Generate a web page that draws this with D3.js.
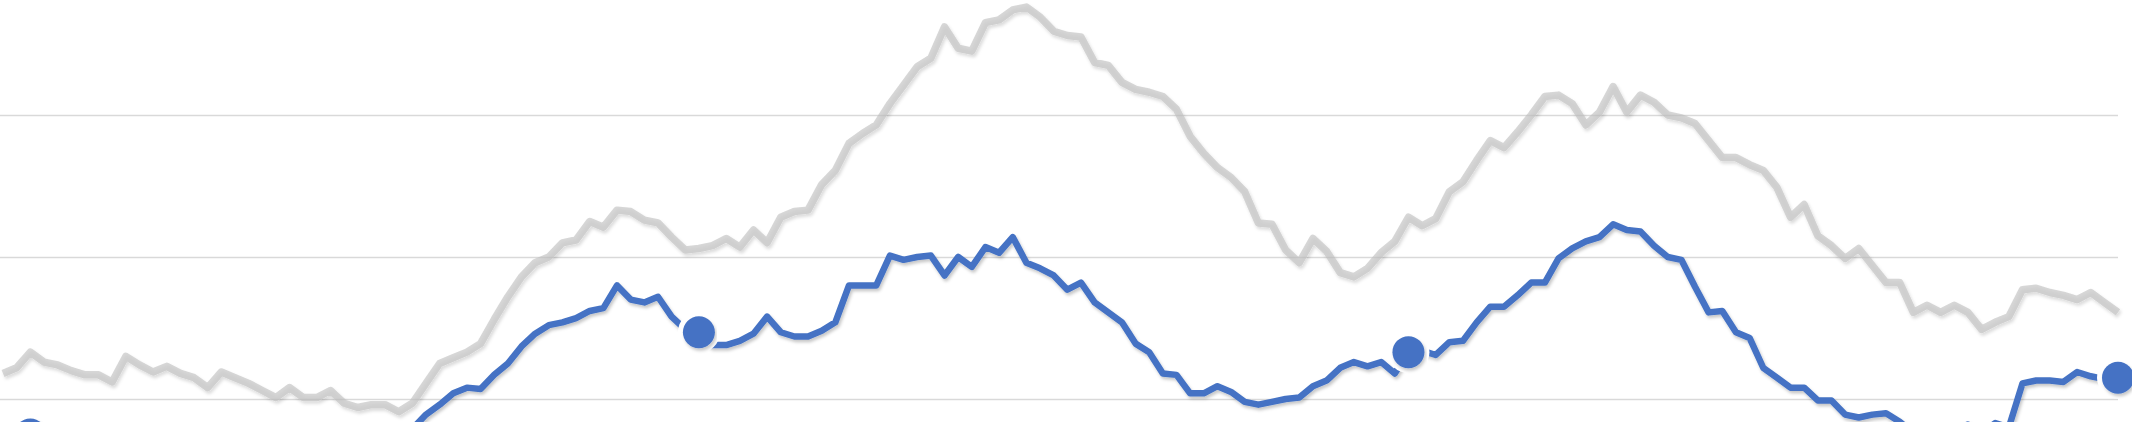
<!DOCTYPE html>
<html>
<head>
<meta charset="utf-8">
<script src="https://cdn.jsdelivr.net/npm/d3@7"></script>
<style>
  html, body { margin: 0; padding: 0; background: #ffffff; overflow: hidden; }
  svg { display: block; }
</style>
</head>
<body>
<svg id="chart" width="2132" height="422"></svg>
<script>
// ---- data (index = period number) ----
const grayValues = [
  11.8,12.2,13.3,12.6,12.4,12.0,11.7,11.7,11.2,13.0,
  12.4,11.9,12.3,11.8,11.5,10.8,11.9,11.5,11.1,10.6,
  10.1,10.8,10.1,10.1,10.6,9.7,9.4,9.6,9.6,9.1,
  9.7,11.1,12.5,12.9,13.3,13.9,15.6,17.2,18.6,19.6,
  20.0,21.0,21.2,22.5,22.1,23.3,23.2,22.6,22.4,21.4,
  20.5,20.6,20.8,21.3,20.7,21.9,21.0,22.8,23.2,23.3,
  25.1,26.1,28.0,28.7,29.3,30.8,32.1,33.4,34.0,36.2,
  34.7,34.5,36.5,36.7,37.4,37.6,36.9,35.9,35.6,35.5,
  33.7,33.5,32.3,31.8,31.6,31.3,30.4,28.5,27.3,26.3,
  25.6,24.6,22.4,22.3,20.5,19.6,21.3,20.4,18.9,18.6,
  19.2,20.3,21.1,22.8,22.2,22.7,24.6,25.3,26.8,28.2,
  27.7,28.8,30.0,31.3,31.4,30.8,29.3,30.2,32.0,30.2,
  31.4,30.9,30.0,29.8,29.4,28.2,27.0,27.0,26.5,26.1,
  24.9,22.8,23.7,21.5,20.8,19.9,20.6,19.4,18.2,18.2,
  16.1,16.6,16.1,16.6,16.1,14.9,15.4,15.8,17.7,17.8,
  17.5,17.3,17.0,17.5,16.8,16.1
];
const blueValues = [
  7.7,7.4,7.5,7.1,6.9,6.5,6.2,6.2,5.7,7.5,
  6.9,6.4,6.8,6.3,6.0,5.3,6.4,6.0,5.6,5.1,
  4.6,5.3,4.6,4.6,5.1,4.2,3.9,4.1,5.2,6.0,
  7.9,8.9,9.6,10.4,10.8,10.7,11.7,12.5,13.7,14.6,
  15.2,15.4,15.7,16.2,16.4,18.0,17.0,16.8,17.2,15.8,
  14.9,14.7,13.8,13.8,14.1,14.6,15.8,14.7,14.4,14.4,
  14.8,15.4,18.0,18.0,18.0,20.1,19.8,20.0,20.1,18.7,
  20.0,19.3,20.7,20.3,21.4,19.6,19.2,18.7,17.7,18.2,
  16.8,16.1,15.4,13.9,13.3,11.8,11.7,10.4,10.4,10.9,
  10.5,9.8,9.6,9.8,10.0,10.1,10.9,11.3,12.2,12.6,
  12.3,12.6,11.8,13.3,13.4,13.1,14.0,14.1,15.4,16.5,
  16.5,17.3,18.2,18.2,19.9,20.6,21.1,21.4,22.3,21.9,
  21.8,20.8,20.0,19.8,17.9,16.1,16.2,14.7,14.3,12.2,
  11.5,10.8,10.8,9.9,9.9,8.9,8.7,8.9,9.0,8.4,
  7.6,7.9,7.5,7.8,8.2,7.6,8.3,8.0,11.1,11.3,
  11.3,11.2,11.9,11.6,11.4,11.5
];
const markerIndices = [2, 51, 103, 155];
const gridValues = [0, 10, 20, 30];

// ---- scales ----
const svg = d3.select("#chart");
const x = d3.scaleLinear().domain([0, grayValues.length - 1]).range([3, 2118]);
const y = d3.scaleLinear().domain([0, 40]).range([541, -27]);

// shadow filter
const defs = svg.append("defs");
const f = defs.append("filter").attr("id", "shadow")
  .attr("x", "-5%").attr("y", "-20%").attr("width", "110%").attr("height", "140%");
f.append("feDropShadow").attr("dx", 1.5).attr("dy", 2.5).attr("stdDeviation", 1.6)
  .attr("flood-color", "#000").attr("flood-opacity", 0.22);

// gridlines via axis
const grid = svg.append("g").attr("class", "grid")
  .call(d3.axisRight(y).tickValues(gridValues).tickSize(2118).tickFormat(""));
grid.select(".domain").remove();
grid.selectAll(".tick line").attr("stroke", "#d9d9d9").attr("stroke-width", 1.6);

const line = d3.line().x((d, i) => x(i)).y(d => y(d));

// gray series
svg.append("path")
  .datum(grayValues)
  .attr("d", line)
  .attr("fill", "none")
  .attr("stroke", "#bfbfbf")
  .attr("stroke-opacity", 0.62)
  .attr("stroke-width", 7.5)
  .attr("stroke-linejoin", "round")
  .attr("filter", "url(#shadow)");

// blue series
svg.append("path")
  .datum(blueValues)
  .attr("d", line)
  .attr("fill", "none")
  .attr("stroke", "#4472c4")
  .attr("stroke-width", 6.5)
  .attr("stroke-linejoin", "round")
  .attr("filter", "url(#shadow)");

// markers: white halo then blue dot
const markers = svg.append("g");
markers.selectAll("circle.halo").data(markerIndices).join("circle")
  .attr("class", "halo")
  .attr("cx", i => x(i)).attr("cy", i => y(blueValues[i]))
  .attr("r", 21).attr("fill", "#ffffff");
markers.selectAll("circle.dot").data(markerIndices).join("circle")
  .attr("class", "dot")
  .attr("cx", i => x(i)).attr("cy", i => y(blueValues[i]))
  .attr("r", 16).attr("fill", "#4472c4")
  .attr("filter", "url(#shadow)");
</script>
</body>
</html>
